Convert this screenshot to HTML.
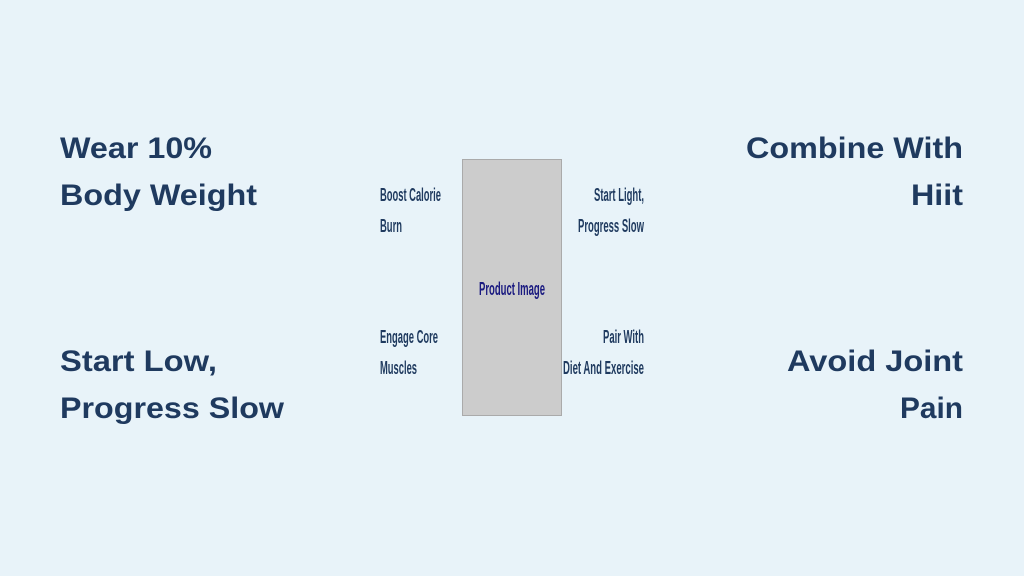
<!DOCTYPE html>
<html><head><meta charset="utf-8"><style>
html,body{margin:0;padding:0;background:#e8f3f9;}
svg{display:block}
</style></head><body>
<svg width="1024" height="576" viewBox="0 0 1024 576" xmlns="http://www.w3.org/2000/svg">
<rect width="1024" height="576" fill="#e8f3f9"/>
<g font-family="Liberation Sans, sans-serif" font-weight="bold" font-size="30" fill="#1f3a5f">
<text x="60" y="158" textLength="152" lengthAdjust="spacingAndGlyphs">Wear 10%</text>
<text x="60" y="205" textLength="197" lengthAdjust="spacingAndGlyphs">Body Weight</text>
<text x="60" y="371" textLength="157" lengthAdjust="spacingAndGlyphs">Start Low,</text>
<text x="60" y="418" textLength="224" lengthAdjust="spacingAndGlyphs">Progress Slow</text>
<text x="963" y="158" text-anchor="end" textLength="217" lengthAdjust="spacingAndGlyphs">Combine With</text>
<text x="963" y="205" text-anchor="end" textLength="52" lengthAdjust="spacingAndGlyphs">Hiit</text>
<text x="963" y="371" text-anchor="end" textLength="176" lengthAdjust="spacingAndGlyphs">Avoid Joint</text>
<text x="963" y="418" text-anchor="end" textLength="63" lengthAdjust="spacingAndGlyphs">Pain</text>
</g>
<rect x="462.5" y="159.5" width="99" height="256" fill="#cccccc" stroke="#aaaaaa" stroke-width="1"/>
<g font-family="Liberation Sans, sans-serif" font-weight="bold" font-size="18" fill="#1f3a5f">
<text x="380" y="201" textLength="61" lengthAdjust="spacingAndGlyphs">Boost Calorie</text>
<text x="380" y="232" textLength="22" lengthAdjust="spacingAndGlyphs">Burn</text>
<text x="380" y="343" textLength="58" lengthAdjust="spacingAndGlyphs">Engage Core</text>
<text x="380" y="374" textLength="37" lengthAdjust="spacingAndGlyphs">Muscles</text>
<text x="644" y="201" text-anchor="end" textLength="50" lengthAdjust="spacingAndGlyphs">Start Light,</text>
<text x="644" y="232" text-anchor="end" textLength="66" lengthAdjust="spacingAndGlyphs">Progress Slow</text>
<text x="644" y="343" text-anchor="end" textLength="41" lengthAdjust="spacingAndGlyphs">Pair With</text>
<text x="644" y="374" text-anchor="end" textLength="81" lengthAdjust="spacingAndGlyphs">Diet And Exercise</text>
<text x="512" y="295" text-anchor="middle" fill="#1a1a80" textLength="66" lengthAdjust="spacingAndGlyphs">Product Image</text>
</g>
</svg>
</body></html>
